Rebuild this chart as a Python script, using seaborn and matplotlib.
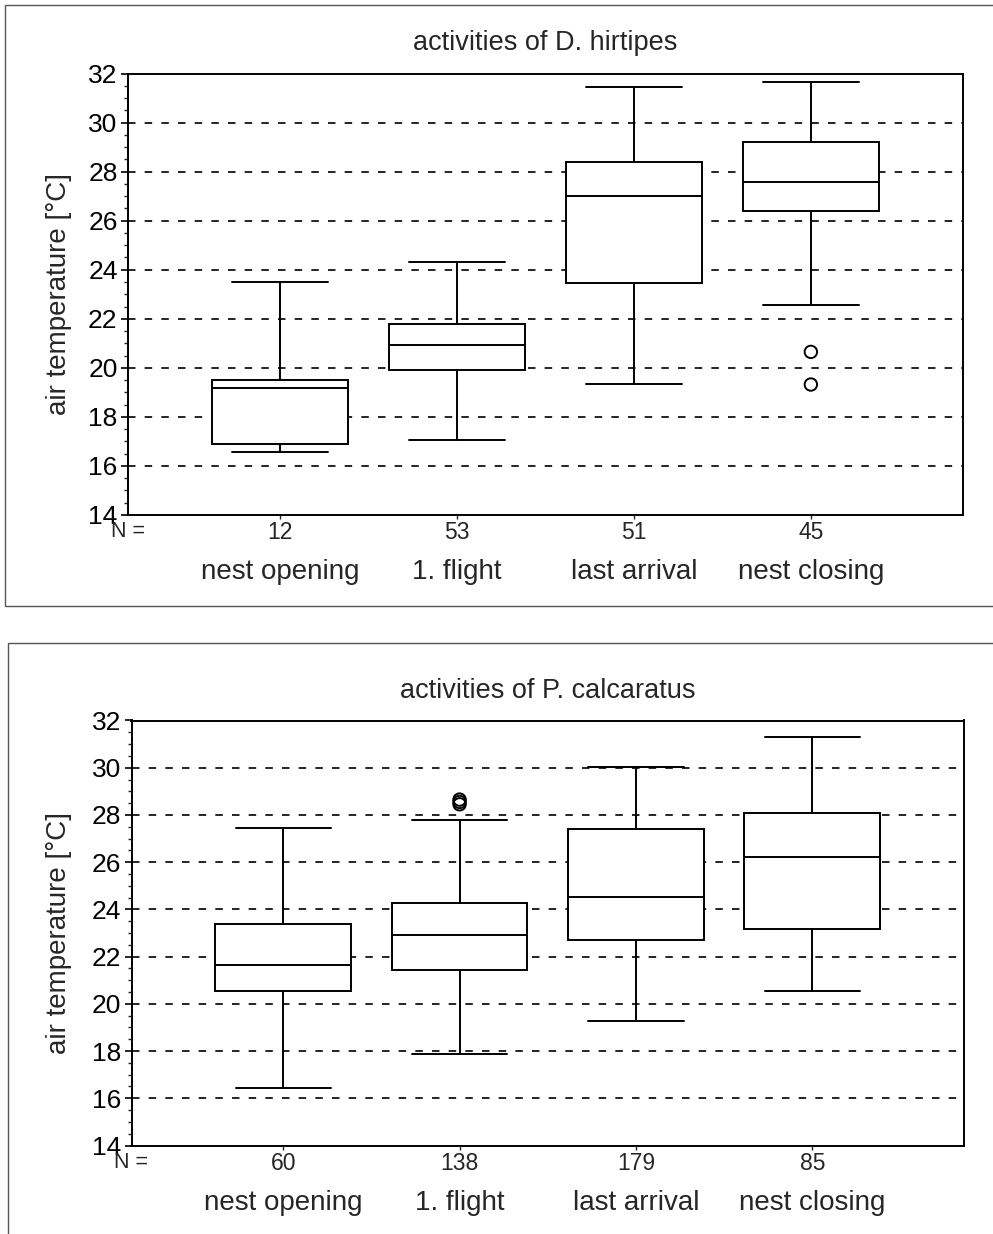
import numpy as np
import pandas as pd
import matplotlib
matplotlib.use("Agg")
import matplotlib.pyplot as plt
from matplotlib.patches import Rectangle
from matplotlib.ticker import MultipleLocator
import seaborn as sns

# ---------------- data ----------------
categories = ["nest opening", "1. flight", "last arrival", "nest closing"]

# D. hirtipes
hirt_title = "activities of D. hirtipes"
hirt_n = [12, 53, 51, 45]
hirt_whislo = [16.55, 17.05, 19.35, 22.55]
hirt_q1 = [16.90, 19.90, 23.45, 26.38]
hirt_med = [19.18, 20.92, 27.02, 27.56]
hirt_q3 = [19.52, 21.80, 28.41, 29.20]
hirt_whishi = [23.48, 24.33, 31.44, 31.64]
hirt_fliers = [[], [], [], [20.65, 19.32]]

# P. calcaratus
calc_title = "activities of P. calcaratus"
calc_n = [60, 138, 179, 85]
calc_whislo = [16.44, 17.87, 19.27, 20.54]
calc_q1 = [20.55, 21.43, 22.70, 23.15]
calc_med = [21.64, 22.91, 24.53, 26.23]
calc_q3 = [23.36, 24.25, 27.39, 28.07]
calc_whishi = [27.43, 27.78, 30.04, 31.31]
calc_fliers = [[], [28.45, 28.55, 28.65], [], []]

y_label = "air temperature [°C]"
grid_levels = [16, 18, 20, 22, 24, 26, 28, 30]

# ---------------- style ----------------
sns.set_style("white")
plt.rcParams["font.family"] = ["Liberation Sans", "DejaVu Sans"]

W, H = 993, 1234
fig = plt.figure(figsize=(W / 100, H / 100), dpi=100)
fig.patch.set_facecolor("white")


def px_axes(left, top, right, bottom):
    return fig.add_axes([left / W, 1 - bottom / H, (right - left) / W, (bottom - top) / H])


def draw_panel(ax, title, n, lo, q1, med, q3, hi, fliers, top_px, bottom_px, left_px):
    pos = list(range(len(categories)))
    stats = [dict(whislo=lo[i], q1=q1[i], med=med[i], q3=q3[i], whishi=hi[i],
                  fliers=[], label=categories[i]) for i in pos]

    # dashed reference lines
    for g in grid_levels:
        ax.axhline(g, color="black", lw=1.2, dashes=(4.5, 5.5), zorder=1)

    ax.bxp(stats, positions=pos, widths=0.77, capwidths=0.54, showfliers=False,
           patch_artist=True,
           boxprops=dict(facecolor="white", edgecolor="black", linewidth=1.4),
           medianprops=dict(color="black", linewidth=1.4),
           whiskerprops=dict(color="black", linewidth=1.4),
           capprops=dict(color="black", linewidth=1.4),
           zorder=3)

    fx, fy = [], []
    for i, fl in enumerate(fliers):
        for v in fl:
            fx.append(i)
            fy.append(v)
    if fx:
        df = pd.DataFrame({"pos": fx, "temp": fy})
        sns.scatterplot(data=df, x="pos", y="temp", ax=ax, marker="o", s=80,
                        color="white", edgecolor="black", linewidth=1.4,
                        zorder=4, legend=False)
        coll = ax.collections[-1]
        coll.set_facecolor("none")
        coll.set_edgecolor("black")

    ax.set_xlim(-0.86, 3.86)
    ax.set_ylim(14, 32)
    ax.set_xlabel("")
    ax.set_ylabel("")

    ax.yaxis.set_major_locator(MultipleLocator(2))
    ax.yaxis.set_minor_locator(MultipleLocator(0.5))
    ax.tick_params(axis="y", which="major", direction="out", length=5, width=1.2,
                   labelsize=19, pad=2.5, left=True, colors="black")
    ax.tick_params(axis="y", which="minor", direction="out", length=3, width=1.0, left=True)
    ax.set_xticks(pos)
    ax.set_xticklabels([""] * len(pos))
    ax.tick_params(axis="x", which="major", direction="out", length=3, width=1.0, bottom=True)

    for s in ax.spines.values():
        s.set_visible(True)
        s.set_color("black")
        s.set_linewidth(1.4)

    ax.set_facecolor("white")

    # title
    ax.annotate(title, xy=(0.5, 1), xycoords="axes fraction", xytext=(0, 30 * 0.72),
                textcoords="offset points", ha="center", va="center", fontsize=19.5)
    # N labels and category names
    ax.annotate("N =", xy=(0, 0), xycoords="axes fraction", xytext=(0, -17 * 0.72),
                textcoords="offset points", ha="center", va="center", fontsize=15.5)
    for i in pos:
        ax.annotate(str(n[i]), xy=(i, 0), xycoords=("data", "axes fraction"),
                    xytext=(0, -18 * 0.72), textcoords="offset points",
                    ha="center", va="center", fontsize=16.5)
        ax.annotate(categories[i], xy=(i, 0), xycoords=("data", "axes fraction"),
                    xytext=(0, -57 * 0.72), textcoords="offset points",
                    ha="center", va="center", fontsize=20)
    # y label
    fig.text(59 / W, 1 - ((top_px + bottom_px) / 2) / H, y_label, rotation=90,
             ha="center", va="center", fontsize=20)


ax1 = px_axes(128, 73.5, 963, 515)
draw_panel(ax1, hirt_title, hirt_n, hirt_whislo, hirt_q1, hirt_med, hirt_q3,
           hirt_whishi, hirt_fliers, 73.5, 515, 128)

ax2 = px_axes(131.5, 720.5, 964, 1145.5)
draw_panel(ax2, calc_title, calc_n, calc_whislo, calc_q1, calc_med, calc_q3,
           calc_whishi, calc_fliers, 720.5, 1145.5, 131.5)

# panel frames
fig.patches.append(Rectangle((5 / W, 1 - 606 / H), 1.05, (606 - 5) / H,
                             transform=fig.transFigure, fill=False,
                             edgecolor="#555555", lw=1.0, clip_on=False))
fig.patches.append(Rectangle((8 / W, -0.05), 1.05, 0.05 + (1 - 643 / H),
                             transform=fig.transFigure, fill=False,
                             edgecolor="#555555", lw=1.0, clip_on=False))

fig.savefig("out.png", dpi=100)
